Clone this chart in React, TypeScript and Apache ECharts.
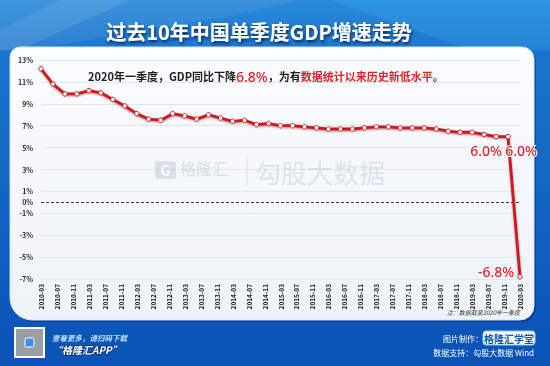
import React, { useEffect, useRef } from 'react';
import * as echarts from 'echarts';

const quarters = [
  '2010-03', '2010-06', '2010-09', '2010-12',
  '2011-03', '2011-06', '2011-09', '2011-12',
  '2012-03', '2012-06', '2012-09', '2012-12',
  '2013-03', '2013-06', '2013-09', '2013-12',
  '2014-03', '2014-06', '2014-09', '2014-12',
  '2015-03', '2015-06', '2015-09', '2015-12',
  '2016-03', '2016-06', '2016-09', '2016-12',
  '2017-03', '2017-06', '2017-09', '2017-12',
  '2018-03', '2018-06', '2018-09', '2018-12',
  '2019-03', '2019-06', '2019-09', '2019-12',
  '2020-03',
];

const gdpGrowth = [
  12.2, 10.8, 9.9, 9.9,
  10.2, 10.0, 9.4, 8.8,
  8.1, 7.6, 7.5, 8.1,
  7.9, 7.6, 8.0, 7.7,
  7.4, 7.5, 7.1, 7.2,
  7.0, 7.0, 6.9, 6.8,
  6.7, 6.7, 6.7, 6.8,
  6.9, 6.9, 6.8, 6.8,
  6.8, 6.7, 6.5, 6.4,
  6.4, 6.2, 6.0, 6.0,
  -6.8,
];

// highlighted points
const labelledQuarters = ['2019-09', '2019-12', '2020-03'];

const yMin = -7;
const yMax = 13;
const yStep = 2;

const titleText = '过去10年中国单季度GDP增速走势';
const noteText = '注：数据截至2020年一季度';

function buildMonths(first: string, last: string): string[] {
  const out: string[] = [];
  let y = parseInt(first.slice(0, 4), 10);
  let m = parseInt(first.slice(5, 7), 10);
  const ly = parseInt(last.slice(0, 4), 10);
  const lm = parseInt(last.slice(5, 7), 10);
  while (y < ly || (y === ly && m <= lm)) {
    out.push(`${y}-${m < 10 ? '0' + m : m}`);
    m += 1;
    if (m > 12) { m = 1; y += 1; }
  }
  return out;
}

const FONT = '"Noto Sans CJK SC", "Noto Sans", sans-serif';

export default function App() {
  const ref = useRef<HTMLDivElement>(null);
  useEffect(() => {
    if (!ref.current) return;
    const chart = echarts.init(ref.current, undefined, { renderer: 'svg' });
    const months = buildMonths(quarters[0], quarters[quarters.length - 1]);
    const labelStyle = {
      show: true,
      color: '#e3232a',
      fontSize: 14,
      fontWeight: 500,
      fontFamily: '"Noto Sans", sans-serif',
      textBorderColor: '#ffffff',
      textBorderWidth: 2,
      formatter: (p: any) => `${Number(p.value).toFixed(1)}%`,
    };
    const labelPlacement: any[] = [
      { position: 'bottom', distance: 4, offset: [-10, 0] },
      { position: 'bottom', distance: 4, offset: [13, 0] },
      { position: 'left', distance: 3, offset: [0, -5] },
    ];
    const seriesData = months.map((m) => {
      const i = quarters.indexOf(m);
      if (i < 0) return null;
      const li = labelledQuarters.indexOf(m);
      if (li < 0) return gdpGrowth[i];
      return { value: gdpGrowth[i], label: { ...labelStyle, ...labelPlacement[li] } };
    });

    const option: any = {
      animation: false,
      textStyle: { fontFamily: FONT },
      grid: { left: 41, right: 30, top: 60, bottom: 87, containLabel: false },
      xAxis: {
        type: 'category',
        data: months,
        boundaryGap: false,
        axisLine: { show: false },
        axisTick: { show: false },
        axisLabel: {
          interval: 3,
          rotate: 90,
          fontSize: 6.5,
          fontWeight: 'bold',
          color: '#222222',
          margin: 5,
          fontFamily: FONT,
        },
        splitLine: { show: false },
      },
      yAxis: {
        type: 'value',
        min: yMin,
        max: yMax,
        interval: yStep,
        axisLine: { show: false },
        axisTick: { show: false },
        axisLabel: {
          formatter: '{value}%',
          fontSize: 7,
          fontWeight: 'bold',
          color: '#2b2b2b',
          margin: 8,
          fontFamily: FONT,
        },
        splitLine: { lineStyle: { color: '#dfe5ec', width: 1 } },
      },
      series: [
        {
          type: 'line',
          data: seriesData,
          connectNulls: true,
          showAllSymbol: true,
          symbol: 'circle',
          symbolSize: 4.5,
          z: 5,
          lineStyle: {
            color: '#d3141d',
            width: 2.8,
            shadowColor: 'rgba(90,0,0,0.45)',
            shadowBlur: 2,
            shadowOffsetY: 1,
          },
          itemStyle: { color: '#ffffff', borderColor: '#c81d2a', borderWidth: 1 },
          markLine: {
            silent: true,
            symbol: 'none',
            data: [{ yAxis: 0 }],
            lineStyle: { type: [3, 2], color: '#3a3a3a', width: 1 },
            label: {
              show: true,
              position: 'start',
              formatter: '0%',
              fontSize: 7,
              fontWeight: 'bold',
              color: '#2b2b2b',
              distance: 8,
              fontFamily: FONT,
            },
          },
        },
      ],
      graphic: [
        // background
        {
          type: 'rect', z: -20, silent: true,
          shape: { x: 0, y: 0, width: 550, height: 366 },
          style: {
            fill: new echarts.graphic.LinearGradient(0, 0, 0, 1, [
              { offset: 0, color: '#2a8ad9' },
              { offset: 0.15, color: '#1a74cc' },
              { offset: 1, color: '#0a52b6' },
            ]),
          },
        },
        {
          type: 'polygon', z: -19, silent: true,
          shape: { points: [[0, 0], [130, 0], [20, 50], [0, 50]] },
          style: { fill: 'rgba(255,255,255,0.10)' },
        },
        {
          type: 'polygon', z: -19, silent: true,
          shape: { points: [[60, 0], [300, 0], [240, 14], [30, 50], [0, 50], [0, 30]] },
          style: { fill: 'rgba(255,255,255,0.07)' },
        },
        {
          type: 'polygon', z: -19, silent: true,
          shape: { points: [[330, 0], [550, 0], [550, 50], [470, 50]] },
          style: { fill: 'rgba(80,200,255,0.18)' },
        },
        // panel
        {
          type: 'rect', z: -18, silent: true,
          shape: { x: 12, y: 49, width: 524, height: 273, r: [10, 12, 14, 22] },
          style: { fill: 'rgba(0,20,80,0.35)' },
        },
        {
          type: 'rect', z: -17, silent: true,
          shape: { x: 10, y: 47, width: 524, height: 273, r: [10, 12, 14, 22] },
          style: {
            fill: new echarts.graphic.LinearGradient(0, 0, 0, 1, [
              { offset: 0, color: '#fbfcfe' },
              { offset: 1, color: '#eef3f9' },
            ]),
            stroke: '#cfe3f5',
            lineWidth: 1,
          },
        },
        // title
        {
          type: 'text', z: 50, silent: true,
          style: {
            x: 259, y: 31, text: titleText,
            align: 'center', verticalAlign: 'middle',
            fontSize: 20, fontWeight: 'bold', fontFamily: FONT,
            fill: '#ffffff',
            textShadowColor: 'rgba(5,25,70,0.85)', textShadowBlur: 3,
            textShadowOffsetX: 1, textShadowOffsetY: 2,
          },
        },
        // annotation
        {
          type: 'text', z: 50, silent: true,
          style: {
            x: 88, y: 76,
            verticalAlign: 'middle',
            text: '{a|2020年一季度，GDP同比下降}{r|6.8%}{a|，为有}{b|数据统计以来历史新低水平}{a|。}',
            rich: {
              a: { fontSize: 11, fill: '#1e1e1e', fontFamily: FONT, fontWeight: 'bold' },
              r: { fontSize: 14, fill: '#e3232a', fontFamily: '"Noto Sans", sans-serif', fontWeight: 500 },
              b: { fontSize: 11, fill: '#e3232a', fontFamily: FONT, fontWeight: 'bold' },
            },
          },
        },
        // watermark
        {
          type: 'rect', z: 1, silent: true,
          shape: { x: 155, y: 161, width: 21, height: 18, r: 3 },
          style: { fill: 'rgba(170,180,195,0.35)' },
        },
        {
          type: 'text', z: 1, silent: true,
          style: {
            x: 165.5, y: 170, text: 'G', align: 'center', verticalAlign: 'middle',
            fontSize: 14, fontWeight: 'bold', fill: 'rgba(255,255,255,0.9)', fontFamily: FONT,
          },
        },
        {
          type: 'text', z: 1, silent: true,
          style: {
            x: 180, y: 168, text: '格隆汇', verticalAlign: 'middle',
            fontSize: 16, fill: 'rgba(170,180,195,0.4)', fontFamily: FONT,
          },
        },
        {
          type: 'line', z: 1, silent: true,
          shape: { x1: 247, y1: 156, x2: 247, y2: 186 },
          style: { stroke: 'rgba(180,190,205,0.4)', lineWidth: 1 },
        },
        {
          type: 'text', z: 1, silent: true,
          style: {
            x: 255, y: 171, text: '勾股大数据', verticalAlign: 'middle',
            fontSize: 26, fill: 'rgba(175,185,200,0.33)', fontFamily: FONT,
          },
        },
        // note
        {
          type: 'text', z: 50, silent: true,
          style: {
            x: 520, y: 312, text: noteText, align: 'right', verticalAlign: 'middle',
            fontSize: 6, fontStyle: 'italic', fill: '#333333', fontFamily: FONT,
          },
        },
        // QR code
        {
          type: 'rect', z: 10, silent: true,
          shape: { x: 14, y: 327, width: 31, height: 31 },
          style: { fill: '#ffffff' },
        },
        {
          type: 'rect', z: 11, silent: true,
          shape: { x: 16, y: 329, width: 27, height: 27 },
          style: { fill: 'rgba(70,80,90,0.55)' },
        },
        {
          type: 'rect', z: 12, silent: true,
          shape: { x: 25, y: 338, width: 9, height: 9, r: 1.5 },
          style: { fill: '#3e8ee6', stroke: '#ffffff', lineWidth: 1 },
        },
        // bottom-left text
        {
          type: 'text', z: 50, silent: true,
          style: {
            x: 52, y: 337, text: '查看更多，请扫码下载', verticalAlign: 'middle',
            fontSize: 7.5, fontStyle: 'italic', fontWeight: 'bold', fill: '#bfe0ff', fontFamily: FONT,
          },
        },
        {
          type: 'text', z: 50, silent: true,
          style: {
            x: 52, y: 349, text: '“格隆汇APP”', verticalAlign: 'middle',
            fontSize: 10, fontStyle: 'italic', fontWeight: 'bold', fill: '#ffffff', fontFamily: FONT,
            stroke: '#0a2f70', lineWidth: 1.5,
          },
        },
        // bottom-right text
        {
          type: 'text', z: 50, silent: true,
          style: {
            x: 443, y: 338, text: '图片制作：', verticalAlign: 'middle',
            fontSize: 8, fill: '#ffffff', fontFamily: FONT,
          },
        },
        {
          type: 'rect', z: 49, silent: true,
          shape: { x: 483, y: 331, width: 52, height: 14, r: 3 },
          style: { fill: '#ffffff', stroke: '#7fd0ff', lineWidth: 1 },
        },
        {
          type: 'text', z: 50, silent: true,
          style: {
            x: 509, y: 338, text: '格隆汇学堂', align: 'center', verticalAlign: 'middle',
            fontSize: 10, fontWeight: 'bold', fill: '#0b55b8', fontFamily: FONT,
          },
        },
        {
          type: 'text', z: 50, silent: true,
          style: {
            x: 534, y: 352, text: '数据支持：勾股大数据 Wind', align: 'right', verticalAlign: 'middle',
            fontSize: 8, fill: '#ffffff', fontFamily: FONT,
          },
        },
      ],
    };
    chart.setOption(option);
    return () => chart.dispose();
  }, []);
  return (
    <div
      ref={ref}
      style={{ position: 'fixed', left: 0, top: 0, width: 550, height: 366 }}
    />
  );
}
